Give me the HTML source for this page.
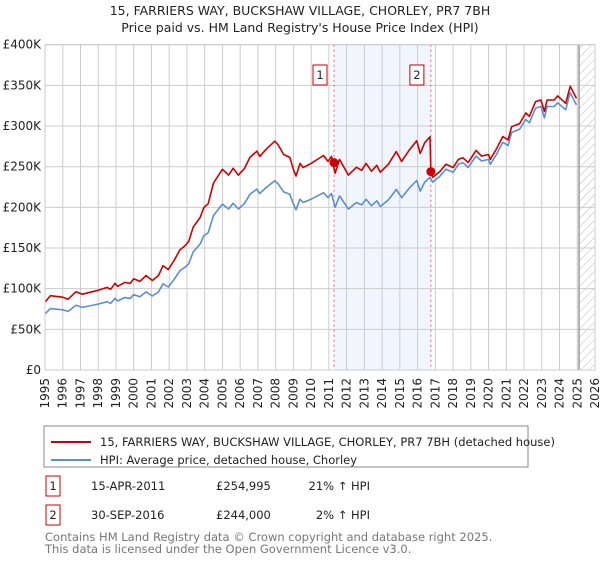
<!DOCTYPE html>
<html><head><meta charset="utf-8"><style>
body{margin:0;background:#fff;font-family:"Liberation Sans","DejaVu Sans",sans-serif;}
svg text{font-family:"DejaVu Sans","Liberation Sans",sans-serif;}
</style></head><body>
<svg id="c" width="600" height="560" xmlns="http://www.w3.org/2000/svg">
<defs><pattern id="hatch" width="6" height="6" patternUnits="userSpaceOnUse" patternTransform="rotate(45)"><line x1="0" y1="0" x2="0" y2="6" stroke="#bbb" stroke-width="1"/></pattern></defs>
<text x="300" y="15" text-anchor="middle" font-size="12.5" fill="#222">15, FARRIERS WAY, BUCKSHAW VILLAGE, CHORLEY, PR7 7BH</text>
<text x="300" y="32" text-anchor="middle" font-size="12.5" fill="#222">Price paid vs. HM Land Registry's House Price Index (HPI)</text>
<g id="plot"></g>
<rect x="44" y="426" width="484" height="41" fill="#fff" stroke="#888" stroke-width="1"/>
<line x1="51" y1="442" x2="91" y2="442" stroke="#cc0000" stroke-width="2"/>
<text x="100" y="446" font-size="11.5" fill="#222">15, FARRIERS WAY, BUCKSHAW VILLAGE, CHORLEY, PR7 7BH (detached house)</text>
<line x1="51" y1="451" x2="91" y2="451" stroke="#5b8fd0" stroke-width="2" transform="translate(0,9)"/>
<text x="100" y="464" font-size="11.5" fill="#222">HPI: Average price, detached house, Chorley</text>
<g>
<rect x="46" y="476" width="14" height="20" fill="#fff" stroke="#c00"/>
<text x="53" y="490" text-anchor="middle" font-size="11.5" fill="#222">1</text>
<text x="91" y="490" font-size="11.5" fill="#222">15-APR-2011</text>
<text x="216" y="490" font-size="11.5" fill="#222">£254,995</text>
<text x="370" y="490" text-anchor="end" font-size="11.5" fill="#222">21% ↑ HPI</text>
</g>
<g>
<rect x="46" y="505" width="14" height="20" fill="#fff" stroke="#c00"/>
<text x="53" y="519" text-anchor="middle" font-size="11.5" fill="#222">2</text>
<text x="91" y="519" font-size="11.5" fill="#222">30-SEP-2016</text>
<text x="216" y="519" font-size="11.5" fill="#222">£244,000</text>
<text x="370" y="519" text-anchor="end" font-size="11.5" fill="#222">2% ↑ HPI</text>
</g>
<text x="45" y="541" font-size="11.5" fill="#777">Contains HM Land Registry data © Crown copyright and database right 2025.</text>
<text x="45" y="553" font-size="11.5" fill="#777">This data is licensed under the Open Government Licence v3.0.</text>
</svg>
<script>
const hpiYears=[1995,1995.3,1996,1996.3,1996.75,1997.1,1998,1998.5,1998.7,1998.95,1999.1,1999.5,1999.8,2000,2000.35,2000.7,2001.05,2001.4,2001.65,2001.95,2002.3,2002.6,2002.9,2003.1,2003.35,2003.75,2003.95,2004.2,2004.5,2005,2005.35,2005.6,2005.9,2006.25,2006.55,2006.95,2007.1,2007.5,2007.95,2008.15,2008.45,2008.8,2009,2009.15,2009.37,2009.55,2010,2010.7,2010.95,2011.15,2011.35,2011.6,2012.1,2012.55,2012.85,2013.1,2013.4,2013.7,2013.9,2014.35,2014.8,2015.1,2015.55,2015.95,2016.15,2016.4,2016.7,2016.85,2017.25,2017.6,2018,2018.3,2018.55,2018.85,2019.3,2019.6,2020,2020.1,2020.45,2020.8,2021.1,2021.3,2021.75,2022.1,2022.3,2022.65,2022.95,2023.15,2023.3,2023.7,2023.9,2024.35,2024.6,2024.95];
const hpiValues=[69,75.5,74,72,79.6,77,81,84,82,88,85,89,88,92.7,90,96,91,96,106,102,112,122,126.5,130.6,145,155,165,169,190,204,198,205,198,205,216,222.5,217,225,232.6,228.6,219,216,204,197,210,206,210,218,212,217,200,214,198,206,203,210,202,208,201,209,222,212,224,233,220,231,237,231,238,247,243,253,255,249,263,257,259,253,265,280,276,292,296,308,304,322,324,310,324,324,328.6,320,341,326];
const priceYears=[1995,1995.3,1996,1996.3,1996.75,1997.1,1998,1998.5,1998.7,1998.95,1999.1,1999.5,1999.8,2000,2000.35,2000.7,2001.05,2001.4,2001.65,2001.95,2002.3,2002.6,2002.9,2003.1,2003.35,2003.75,2003.95,2004.2,2004.5,2005,2005.35,2005.6,2005.9,2006.25,2006.55,2006.95,2007.1,2007.5,2007.95,2008.15,2008.45,2008.8,2009,2009.15,2009.37,2009.55,2010,2010.7,2010.95,2011.15,2011.35,2011.6,2012.1,2012.55,2012.85,2013.1,2013.4,2013.7,2013.9,2014.35,2014.8,2015.1,2015.55,2015.95,2016.15,2016.4,2016.7,2016.75,2016.85,2017.25,2017.6,2018,2018.3,2018.55,2018.85,2019.3,2019.6,2020,2020.1,2020.45,2020.8,2021.1,2021.3,2021.75,2022.1,2022.3,2022.65,2022.95,2023.15,2023.3,2023.7,2023.9,2024.35,2024.6,2024.95];
const priceValues=[83.5,91.4,89.5,87.1,96.3,93.2,98,101.6,99.2,106.5,102.9,107.7,106.5,112.2,108.9,116.2,110.1,116.2,128.3,123.4,135.5,147.6,153.1,158,175.5,187.6,199.7,204.5,229.9,246.8,239.6,248,239.6,248,261.4,269.2,262.6,272.3,281.4,276.6,265,261.4,246.8,238.4,254,249,254,263.8,256.5,262.6,242,259,239.6,249.3,245.6,254,244.4,251.7,243.2,252.9,268.6,256.5,271,282,266.2,279.5,286.8,244,237,244,253,249,259,261,255,270,263,265,259,272,287,283,299,303,316,312,330,332,318,332,332,337,328,349,334];
const saleYears=[2011.29,2016.75];
const saleValues=[254.995,244];
const saleLabels=["1","2"];
const yTicks=[0,50,100,150,200,250,300,350,400];
const yTickLabels=["£0","£50K","£100K","£150K","£200K","£250K","£300K","£350K","£400K"];
const xTicks=[1995,1996,1997,1998,1999,2000,2001,2002,2003,2004,2005,2006,2007,2008,2009,2010,2011,2012,2013,2014,2015,2016,2017,2018,2019,2020,2021,2022,2023,2024,2025,2026];
const dataEnd=2025.1;

const L=45,R=595,T=44.7,B=370;
const xs=y=>L+(y-1995)/(2026-1995)*(R-L);
const ys=v=>B-v/400*(B-T);
const NS="http://www.w3.org/2000/svg";
const g=document.getElementById('plot');
function mk(tag,attrs){const e=document.createElementNS(NS,tag);for(const k in attrs)e.setAttribute(k,attrs[k]);g.appendChild(e);return e;}

let e=mk('rect',{x:xs(saleYears[0]),y:T,width:xs(saleYears[1])-xs(saleYears[0]),height:B-T,fill:'#eef3fc',opacity:0.8});


e=mk('rect',{x:xs(dataEnd),y:T,width:R-xs(dataEnd),height:B-T,fill:'url(#hatch)'});


xTicks.forEach(t=>{
  let l=mk('line',{x1:xs(t),x2:xs(t),y1:T,y2:B,stroke:'#ccc','stroke-width':1});
  
  
  let tx=mk('text',{x:0,y:0,'font-size':12,fill:'#222','text-anchor':'end',transform:`translate(${xs(t)+4},${B+8}) rotate(-90)`});
  tx.textContent=t;
  
  
});
yTicks.forEach((t,i)=>{
  let l=mk('line',{x1:L,x2:R,y1:ys(t),y2:ys(t),stroke:'#ccc','stroke-width':1});
  
  
  let tx=mk('text',{x:L-4,y:ys(t)+4,'font-size':12,fill:'#222','text-anchor':'end'});
  tx.textContent=yTickLabels[i];
  
  
});
e=mk('line',{x1:xs(dataEnd),x2:xs(dataEnd),y1:T,y2:B,stroke:'#999','stroke-width':1.5});


saleYears.forEach((y,i)=>{
  let l=mk('line',{x1:xs(y),x2:xs(y),y1:T,y2:B,stroke:'#e06070','stroke-width':1,'stroke-dasharray':'2,3'});
  
  
  let r=mk('rect',{x:xs(y)-21,y:65,width:14,height:20,fill:'#fff',stroke:'#c00'});
  
  
  let tx=mk('text',{x:xs(y)-14,y:79,'font-size':11.5,fill:'#222','text-anchor':'middle'});
  tx.textContent=saleLabels[i];
  
  
});
function line(yrs,vals,color,name){
  const d=yrs.map((y,i)=>(i?'L':'M')+xs(y).toFixed(1)+','+ys(vals[i]).toFixed(1)).join('');
  const p=mk('path',{d:d,fill:'none',stroke:color,'stroke-width':1.6,'stroke-linejoin':'round'});
  
  
}
line(hpiYears,hpiValues,'#5b8fd0','hpi-line');
line(priceYears,priceValues,'#cc0000','price-line');
saleYears.forEach((y,i)=>{
  const c=mk('circle',{cx:xs(y),cy:ys(saleValues[i]),r:4.5,fill:'#cc0000'});
  
  
});
e=mk('rect',{x:L,y:T,width:R-L,height:B-T,fill:'none',stroke:'#ccc'});


</script>
</body></html>
